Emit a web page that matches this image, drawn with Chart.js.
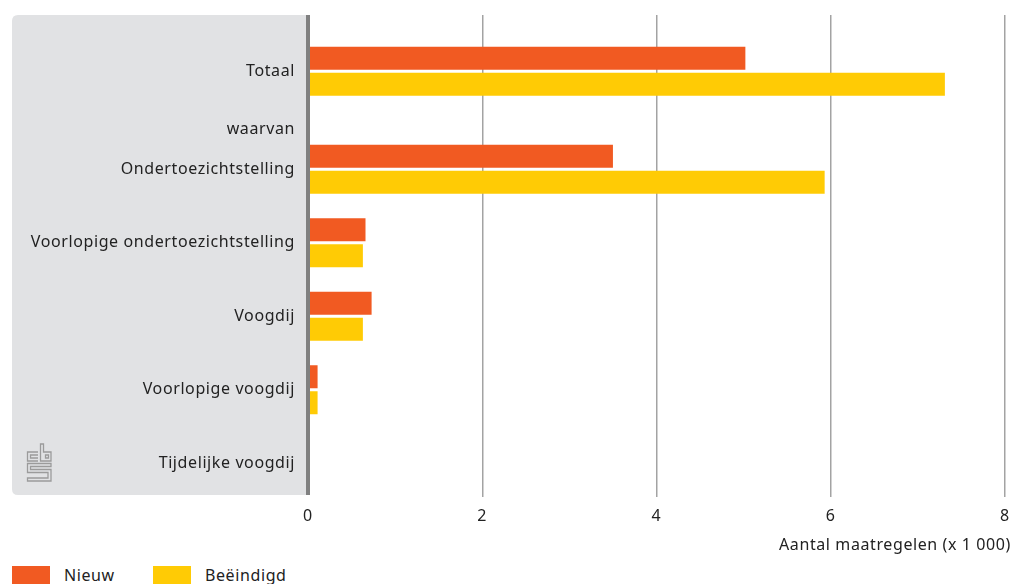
<!DOCTYPE html>
<html lang="nl">
<head>
<meta charset="utf-8">
<title>Kinderbeschermingsmaatregelen</title>
<script src="https://cdn.jsdelivr.net/npm/chart.js@4"></script>
<style>
  html, body { margin: 0; padding: 0; background: #fff; overflow: hidden; }
  #wrap { position: relative; width: 1013px; height: 584px; font-family: "Noto Sans", sans-serif; color: #222; }
  #axisTitle { position: absolute; right: 2px; top: 535px; font-size: 16px; letter-spacing: 0.6px; line-height: 18px; white-space: nowrap; }
  #legend { position: absolute; left: 12px; top: 566px; width: 400px; height: 20px; font-size: 16px; letter-spacing: 0.6px; line-height: 18px; }
  #legend .item { position: absolute; top: 0; display: flex; align-items: flex-start; }
  #legend .box { width: 38px; height: 18px; margin-right: 14px; }
</style>
</head>
<body>
<div id="wrap">
  <canvas id="myChart" width="1013" height="560"></canvas>
  <div id="axisTitle">Aantal maatregelen (x 1 000)</div>
  <div id="legend"></div>
</div>
<script>
// data (x 1 000 maatregelen)
const categories = ['Totaal', 'waarvan', 'Ondertoezichtstelling', 'Voorlopige ondertoezichtstelling', 'Voogdij', 'Voorlopige voogdij', 'Tijdelijke voogdij'];
const nieuw = [5.02, null, 3.50, 0.66, 0.73, 0.11, 0];
const beeindigd = [7.31, null, 5.93, 0.63, 0.63, 0.11, 0];
const seriesNames = ['Nieuw', 'Beëindigd'];
const xTicks = [0, 2, 4, 6, 8];

const colors = ['#f15a22', '#ffcb05'];

// rows are not evenly spaced in the original, so put them on a finer grid of slots
const rowSlot = [2, 4, 6, 9, 12, 15, 18];
const slotCount = 20;

const labels = new Array(slotCount).fill('');
const nieuwSlots = new Array(slotCount).fill(null);
const beeindigdSlots = new Array(slotCount).fill(null);
rowSlot.forEach((s, i) => {
  // a row without bars is a sub heading, it sits a bit lower
  labels[s] = nieuw[i] === null ? ['', categories[i]] : categories[i];
  nieuwSlots[s] = nieuw[i];
  beeindigdSlots[s] = beeindigd[i];
});

const font = { family: '"Noto Sans", sans-serif', size: 16 };
const panelTop = 15;
const panelBottom = 495;

// grey label panel + cbs logo
const panelPlugin = {
  id: 'panel',
  beforeDraw(chart) {
    const { ctx, chartArea } = chart;
    ctx.letterSpacing = '0.6px';
    const x = 12, y = panelTop, w = chartArea.left - 12, h = panelBottom - panelTop, r = 6;
    ctx.save();
    ctx.fillStyle = '#e1e2e4';
    ctx.beginPath();
    ctx.moveTo(x + w, y);
    ctx.lineTo(x + r, y);
    ctx.quadraticCurveTo(x, y, x, y + r);
    ctx.lineTo(x, y + h - r);
    ctx.quadraticCurveTo(x, y + h, x + r, y + h);
    ctx.lineTo(x + w, y + h);
    ctx.closePath();
    ctx.fill();

    // logo
    ctx.strokeStyle = '#9b9b9b';
    ctx.lineWidth = 1.3;
    ctx.beginPath();
    // c
    ctx.moveTo(38, 452); ctx.lineTo(27.5, 452); ctx.lineTo(27.5, 461); ctx.lineTo(38, 461);
    ctx.moveTo(38, 455); ctx.lineTo(30.5, 455); ctx.lineTo(30.5, 458); ctx.lineTo(38, 458);
    // b
    ctx.moveTo(40.5, 444); ctx.lineTo(43.5, 444); ctx.lineTo(43.5, 452); ctx.lineTo(51, 452);
    ctx.lineTo(51, 461); ctx.lineTo(40.5, 461); ctx.closePath();
    ctx.rect(45.5, 455, 3, 3);
    // s
    ctx.moveTo(51, 463.5); ctx.lineTo(27.5, 463.5); ctx.lineTo(27.5, 472.5); ctx.lineTo(48, 472.5);
    ctx.lineTo(48, 478); ctx.lineTo(27.5, 478); ctx.lineTo(27.5, 481); ctx.lineTo(51, 481);
    ctx.lineTo(51, 469.5); ctx.lineTo(30.5, 469.5); ctx.lineTo(30.5, 466.5); ctx.lineTo(51, 466.5); ctx.closePath();
    ctx.stroke();
    ctx.restore();
  },
  // trim the grid lines to the panel height
  beforeDatasetsDraw(chart) {
    const { ctx, chartArea } = chart;
    ctx.save();
    ctx.fillStyle = '#fff';
    ctx.fillRect(chartArea.left - 3, 0, chartArea.right - chartArea.left + 6, panelTop);
    ctx.fillRect(chartArea.left - 3, panelBottom, 6, chartArea.bottom - panelBottom);
    ctx.fillRect(chartArea.left - 3, panelBottom + 2, chartArea.right - chartArea.left + 6, chartArea.bottom - panelBottom);
    ctx.restore();
  }
};

const myChart = new Chart(document.getElementById('myChart'), {
  type: 'bar',
  data: {
    labels,
    datasets: [
      { label: seriesNames[0], data: nieuwSlots, backgroundColor: colors[0] },
      { label: seriesNames[1], data: beeindigdSlots, backgroundColor: colors[1] },
    ],
  },
  options: {
    indexAxis: 'y',
    responsive: false,
    animation: false,
    categoryPercentage: 2.122,
    barPercentage: 0.885,
    layout: { padding: { top: 10, right: 8, left: 0, bottom: 0 } },
    plugins: {
      legend: { display: false },
      tooltip: { enabled: false },
    },
    scales: {
      x: {
        min: 0,
        max: 8,
        afterBuildTicks: (scale) => { scale.ticks = xTicks.map((v) => ({ value: v })); },
        afterFit: (scale) => {
          scale.height = 60;
          scale.paddingLeft = 0;
          scale.paddingRight = 0;
        },
        border: { display: false },
        grid: {
          drawTicks: false,
          color: (c) => (c.tick && c.tick.value === 0 ? '#808080' : '#a3a3a3'),
          lineWidth: (c) => (c.tick && c.tick.value === 0 ? 4 : 1.5),
        },
        ticks: { font, color: '#222', padding: 7 },
      },
      y: {
        afterFit: (scale) => {
          scale.width = 308;
          scale.paddingTop = 0;
          scale.paddingBottom = 0;
        },
        grid: { display: false, drawTicks: false },
        border: { display: false },
        ticks: { font, color: '#222', padding: 13, autoSkip: false },
      },
    },
  },
  plugins: [panelPlugin],
});

// legend
const legendEl = document.getElementById('legend');
const legendX = [0, 141];
seriesNames.forEach((name, i) => {
  const item = document.createElement('div');
  item.className = 'item';
  item.style.left = legendX[i] + 'px';
  item.innerHTML = '<span class="box" style="background:' + colors[i] + '"></span><span>' + name + '</span>';
  legendEl.appendChild(item);
});
</script>
</body>
</html>
